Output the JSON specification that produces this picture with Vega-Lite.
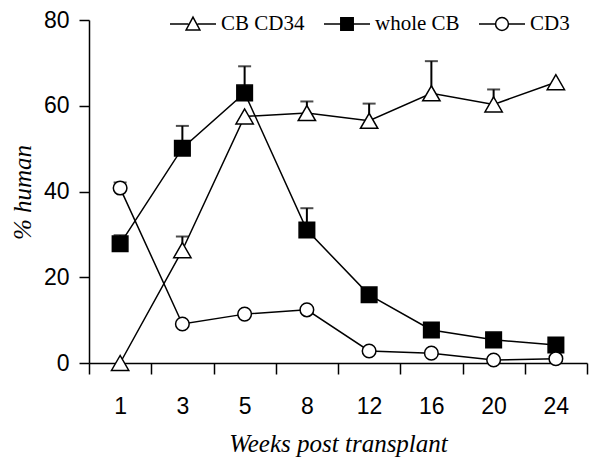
{
  "$schema": "https://vega.github.io/schema/vega-lite/v6.json",
  "width": 498,
  "height": 343,
  "autosize": {"type": "none"},
  "padding": {"left": 89, "top": 20, "right": 15, "bottom": 106},
  "background": "white",
  "config": {
    "view": {"stroke": null},
    "axis": {"domainColor": "black", "tickColor": "black", "labelColor": "black", "titleColor": "black", "grid": false, "domainWidth": 1.5, "tickWidth": 1.5},
    "legend": {
      "title": null, "orient": "none", "direction": "horizontal",
      "legendX": 80, "legendY": -20,
      "symbolSize": 2116, "symbolStrokeWidth": 1.5,
      "labelFont": "Liberation Serif", "labelFontSize": 21, "labelColor": "black",
      "labelOffset": 4, "columnPadding": 16
    }
  },
  "data": {
    "values": [
      {"week": "1", "series": "CB CD34", "value": 0, "upper": null},
      {"week": "3", "series": "CB CD34", "value": 26.3, "upper": 29.5},
      {"week": "5", "series": "CB CD34", "value": 57.5, "upper": null},
      {"week": "8", "series": "CB CD34", "value": 58.3, "upper": 61},
      {"week": "12", "series": "CB CD34", "value": 56.5, "upper": 60.5},
      {"week": "16", "series": "CB CD34", "value": 62.9, "upper": 70.4},
      {"week": "20", "series": "CB CD34", "value": 60.3, "upper": 63.8},
      {"week": "24", "series": "CB CD34", "value": 65.5, "upper": null},
      {"week": "1", "series": "whole CB", "value": 27.8, "upper": 29.8},
      {"week": "3", "series": "whole CB", "value": 50.1, "upper": 55.3},
      {"week": "5", "series": "whole CB", "value": 63, "upper": 69.2},
      {"week": "8", "series": "whole CB", "value": 31, "upper": 36.1},
      {"week": "12", "series": "whole CB", "value": 15.9, "upper": null},
      {"week": "16", "series": "whole CB", "value": 7.7, "upper": null},
      {"week": "20", "series": "whole CB", "value": 5.4, "upper": null},
      {"week": "24", "series": "whole CB", "value": 4.2, "upper": null},
      {"week": "1", "series": "CD3", "value": 40.8, "upper": 42.1},
      {"week": "3", "series": "CD3", "value": 9.1, "upper": null},
      {"week": "5", "series": "CD3", "value": 11.4, "upper": null},
      {"week": "8", "series": "CD3", "value": 12.4, "upper": null},
      {"week": "12", "series": "CD3", "value": 2.8, "upper": null},
      {"week": "16", "series": "CD3", "value": 2.3, "upper": null},
      {"week": "20", "series": "CD3", "value": 0.7, "upper": null},
      {"week": "24", "series": "CD3", "value": 1.0, "upper": null}
    ]
  },
  "encoding": {
    "x": {
      "field": "week", "type": "ordinal",
      "sort": ["1", "3", "5", "8", "12", "16", "20", "24"],
      "scale": {"paddingInner": 0, "paddingOuter": 0},
      "axis": {
        "title": "Weeks post transplant", "labelAngle": 0, "tickBand": "extent",
        "tickSize": 11, "labelFont": "Liberation Sans", "labelFontSize": 23, "labelPadding": 21,
        "titleFont": "Liberation Serif", "titleFontStyle": "italic", "titleFontWeight": "normal", "titleFontSize": 25, "titlePadding": 13
      }
    },
    "y": {
      "field": "value", "type": "quantitative",
      "scale": {"domain": [0, 80], "nice": false},
      "axis": {
        "title": "% human", "values": [0, 20, 40, 60, 80], "tickSize": 10,
        "labelFont": "Liberation Sans", "labelFontSize": 23, "labelPadding": 10,
        "titleFont": "Liberation Serif", "titleFontStyle": "italic", "titleFontWeight": "normal", "titleFontSize": 25, "titlePadding": 8, "titleY": 172
      }
    }
  },
  "layer": [
    {
      "mark": {"type": "line", "color": "black", "strokeWidth": 1.5},
      "encoding": {"detail": {"field": "series"}}
    },
    {
      "transform": [{"filter": "datum.upper != null"}],
      "mark": {"type": "rule", "color": "black", "strokeWidth": 2},
      "encoding": {"y2": {"field": "upper"}}
    },
    {
      "transform": [{"filter": "datum.upper != null"}],
      "mark": {"type": "tick", "color": "black", "thickness": 2, "size": 13},
      "encoding": {"y": {"field": "upper", "type": "quantitative"}}
    },
    {
      "mark": {"type": "point", "filled": true, "stroke": "black", "strokeWidth": 1.5, "opacity": 1},
      "encoding": {
        "shape": {
          "field": "series", "type": "nominal",
          "scale": {"domain": ["CB CD34", "whole CB", "CD3"], "range": ["triangle-up", "square", "circle"]},
          "legend": null
        },
        "fill": {
          "field": "series", "type": "nominal",
          "scale": {"domain": ["CB CD34", "whole CB", "CD3"], "range": ["white", "black", "white"]},
          "legend": null
        },
        "size": {
          "field": "series", "type": "nominal",
          "scale": {"domain": ["CB CD34", "whole CB", "CD3"], "range": [300, 185, 220]},
          "legend": null
        }
      }
    },
    {
      "transform": [{"filter": "false"}],
      "mark": {"type": "point", "filled": true, "strokeWidth": 1.5, "opacity": 1},
      "encoding": {
        "shape": {
          "field": "series", "type": "nominal",
          "scale": {"domain": ["CB CD34", "whole CB", "CD3"], "range": ["M-1,0H-0.2M0.2,0H1M0,-0.3L0.3,0.26L-0.3,0.26Z", "M-1,0H-0.27M0.27,0H1M-0.27,-0.27H0.27V0.27H-0.27Z", "M-1,0H-0.28M0.28,0H1M0.28,0A0.28,0.28,0,1,1,-0.28,0A0.28,0.28,0,1,1,0.28,0Z"]}
        },
        "fill": {
          "field": "series", "type": "nominal",
          "scale": {"domain": ["CB CD34", "whole CB", "CD3"], "range": ["white", "black", "white"]}
        },
        "stroke": {
          "field": "series", "type": "nominal",
          "scale": {"domain": ["CB CD34", "whole CB", "CD3"], "range": ["black", "black", "black"]}
        }
      }
    }
  ],
  "resolve": {"scale": {"shape": "independent", "fill": "independent", "size": "independent", "stroke": "independent"}}
}
